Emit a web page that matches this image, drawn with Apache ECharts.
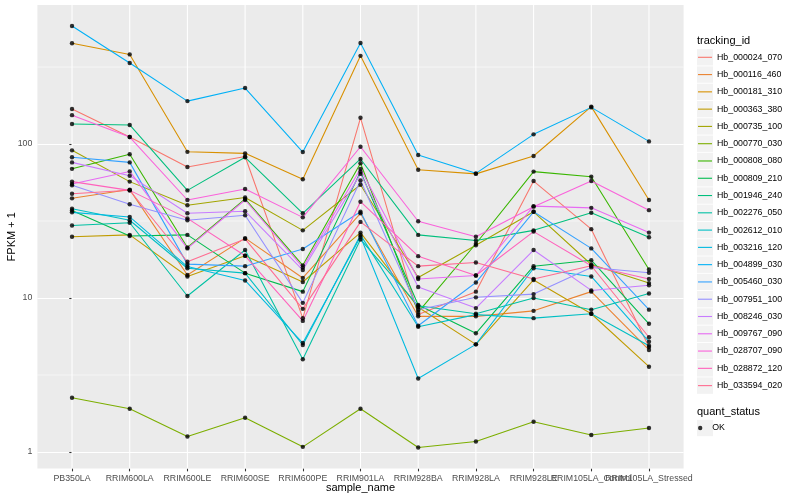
<!DOCTYPE html>
<html><head><meta charset="utf-8">
<script src="https://cdn.jsdelivr.net/npm/echarts@6/dist/echarts.min.js"></script>
<style>html,body{margin:0;padding:0;background:#fff}#c{width:800px;height:500px}</style>
</head><body><div id="c"></div>
<script>
// ---------- data ----------
const categories = ['PB350LA','RRIM600LA','RRIM600LE','RRIM600SE','RRIM600PE','RRIM901LA','RRIM928BA','RRIM928LA','RRIM928LE','RRIM105LA_Control','RRIM105LA_Stressed'];
const trackingIds = ['Hb_000024_070','Hb_000116_460','Hb_000181_310','Hb_000363_380','Hb_000735_100','Hb_000770_030','Hb_000808_080','Hb_000809_210','Hb_001946_240','Hb_002276_050','Hb_002612_010','Hb_003216_120','Hb_004899_030','Hb_005460_030','Hb_007951_100','Hb_008246_030','Hb_009767_090','Hb_028707_090','Hb_028872_120','Hb_033594_020'];
const hb_000024_070 = [169, 111, 71, 83, 7.4, 148, 7.8, 11, 57.5, 28, 4.8];
const hb_000116_460 = [44.4, 50.6, 14.1, 24.5, 13.5, 35.5, 7.6, 7.6, 8.25, 11, 4.6];
const hb_000181_310 = [451, 382, 89, 87, 59, 374, 68, 64, 83.6, 175, 43.3];
const hb_000363_380 = [25, 25.7, 13.8, 18.8, 12.7, 26.6, 8.7, 5.0, 13.1, 7.9, 3.58];
const hb_000735_100 = [91, 57, 40, 45, 27.5, 54.4, 13.6, 22, 36.3, 16.5, 12.5];
const hb_000770_030 = [2.25, 1.91, 1.26, 1.67, 1.08, 1.91, 1.07, 1.17, 1.57, 1.29, 1.43];
const hb_000808_080 = [69, 85.8, 21.3, 44, 16.3, 75, 8.1, 22.5, 66.2, 61.3, 15.3];
const hb_000809_210 = [37, 25.3, 25.7, 14.5, 11, 66, 9, 5.9, 16.1, 17.6, 6.8];
const hb_001946_240 = [135, 133, 50, 82, 35.5, 80, 25.7, 23.6, 27.5, 35.8, 24.8];
const hb_002276_050 = [29.6, 30.8, 10.3, 20.5, 4.0, 24, 8.9, 7.9, 10, 8.4, 10.7];
const hb_002612_010 = [38, 32, 15.6, 14.5, 4.95, 25.7, 6.5, 7.8, 7.4, 7.9, 4.9];
const hb_003216_120 = [36, 33.6, 16, 13, 5.1, 25, 3.0, 5.0, 15.6, 13.8, 5.2];
const hb_004899_030 = [584, 336, 190, 231, 88.7, 453, 84.9, 64.5, 115.6, 173, 104];
const hb_005460_030 = [82, 76, 16.6, 16.1, 20.8, 36.3, 6.6, 12.6, 36.3, 21, 8.4];
const hb_007951_100 = [54, 40.6, 32, 34.5, 9.3, 58, 8.4, 10.1, 10.6, 15.8, 14.6];
const hb_008246_030 = [76, 62.3, 35.5, 36.6, 15.2, 64, 11.8, 8.6, 20.5, 11.2, 12.1];
const hb_009767_090 = [55, 66.4, 21, 43.3, 15.8, 69, 13.3, 14, 39.5, 38.5, 26.6];
const hb_028707_090 = [154, 111, 43.3, 51, 33.4, 96, 31.5, 25, 39.2, 57.5, 37.2];
const hb_028872_120 = [57, 50, 32.9, 18.8, 7.1, 42.2, 18.7, 14, 27, 16.2, 13.3];
const hb_033594_020 = [47.5, 50.1, 17.2, 24.2, 8.5, 31.2, 16.1, 17, 13.3, 16.2, 5.56];
const seriesValues = [hb_000024_070, hb_000116_460, hb_000181_310, hb_000363_380, hb_000735_100, hb_000770_030, hb_000808_080, hb_000809_210, hb_001946_240, hb_002276_050, hb_002612_010, hb_003216_120, hb_004899_030, hb_005460_030, hb_007951_100, hb_008246_030, hb_009767_090, hb_028707_090, hb_028872_120, hb_033594_020];
const yTickValues = [1, 10, 100];
const yMinorGrid = [3.1623, 31.623, 316.23];
const quantStatus = ['OK'];

// ---------- style / layout ----------
const palette = ['#F8766D','#EA8331','#D89000','#C09B00','#A3A500','#7CAE00','#39B600','#00BB4E','#00BF7D','#00C1A3','#00BFC4','#00BAE0','#00B0F6','#35A2FF','#9590FF','#C77CFF','#E76BF3','#FA62DB','#FF62BC','#FF6C91'];
const FONT = '"Liberation Sans", Arial, Helvetica, sans-serif';
const xIdx = categories.map((_, i) => i);
const xMin = -0.6, xMax = categories.length - 1 + 0.6;
const yMin = Math.pow(10, -0.108), yMax = Math.pow(10, 2.903);
const evenIdx = xIdx.filter(i => i % 2 === 0);
const oddIdx = xIdx.filter(i => i % 2 === 1);

const chart = echarts.init(document.getElementById('c'), null, {renderer: 'canvas'});

const lineSeries = trackingIds.map((id, k) => ({
  name: id, type: 'line',
  data: seriesValues[k].map((v, i) => [i, v]),
  showSymbol: false, symbol: 'none',
  color: palette[k],
  lineStyle: {color: palette[k], width: 1.07},
  itemStyle: {color: palette[k]},
  z: 3, silent: true
}));
const pointSeries = {
  name: 'OK', type: 'scatter',
  data: seriesValues.flatMap(vals => vals.map((v, i) => [i, v])),
  symbol: 'circle', symbolSize: 4.4,
  itemStyle: {color: '#000'}, z: 4, silent: true
};
// white panel grid lines: major vertical at categories, minor horizontal at half decades
const vGridSeries = xIdx.map(i => ({
  type: 'line', data: [[i, yMin], [i, yMax]], symbol: 'none', silent: true, z: 1,
  lineStyle: {color: '#FFFFFF', width: 1.07}
}));
const minorGridSeries = yMinorGrid.map(v => ({
  type: 'line', data: [[xMin, v], [xMax, v]], symbol: 'none', silent: true, z: 1,
  lineStyle: {color: '#FFFFFF', width: 0.55}
}));

const keyStep = 17.28;
const key0 = 57.3;
const graphics = trackingIds.map((_, i) => ({
  type: 'rect', z: 0,
  shape: {x: 697, y: key0 + i * keyStep - 8.2, width: 16, height: 16.4},
  style: {fill: '#F2F2F2'}
}));
graphics.push({type: 'rect', z: 0, shape: {x: 697, y: 428 - 8.2, width: 16, height: 16.4}, style: {fill: '#F2F2F2'}});
graphics.push({type: 'text', x: 12, y: 236.8, rotation: Math.PI / 2, z: 5,
  style: {text: 'FPKM + 1', fill: '#000', font: '11px ' + FONT, align: 'center', verticalAlign: 'middle'}});
graphics.push({type: 'text', x: 360.5, y: 488, z: 5,
  style: {text: 'sample_name', fill: '#000', font: '11px ' + FONT, align: 'center', verticalAlign: 'middle'}});

const xAxisBase = (vals) => ({
  type: 'value', min: xMin, max: xMax, position: 'bottom', offset: 0,
  axisLine: {show: false},
  axisTick: {show: true, customValues: vals, length: 2.75, lineStyle: {color: '#333333', width: 1.07}},
  axisLabel: {customValues: vals, formatter: v => categories[Math.round(v)], color: '#4D4D4D', fontSize: 8.8, margin: 5, hideOverlap: false, showMinLabel: true, showMaxLabel: true, fontFamily: FONT},
  splitLine: {show: false}
});

chart.setOption({
  animation: false,
  backgroundColor: '#FFFFFF',
  textStyle: {fontFamily: FONT},
  title: [
    {text: 'tracking_id', left: 692, top: 30, textStyle: {fontSize: 11, fontWeight: 'normal', color: '#000', fontFamily: FONT}},
    {text: 'quant_status', left: 692, top: 401, textStyle: {fontSize: 11, fontWeight: 'normal', color: '#000', fontFamily: FONT}}
  ],
  grid: {left: 37.4, right: 116.4, top: 5, bottom: 31.4, show: true, backgroundColor: '#EBEBEB', borderWidth: 0, containLabel: false, outerBoundsMode: 'none'},
  xAxis: [xAxisBase(evenIdx), xAxisBase(oddIdx)],
  yAxis: {
    type: 'log', logBase: 10, min: yMin, max: yMax,
    axisLine: {show: false},
    axisTick: {show: true, customValues: yTickValues, length: 2.75, lineStyle: {color: '#333333', width: 1.07}},
    axisLabel: {customValues: yTickValues, formatter: v => String(Math.round(v)), color: '#4D4D4D', fontSize: 8.8, margin: 5, fontFamily: FONT},
    splitLine: {show: true, lineStyle: {color: '#FFFFFF', width: 1.07}}
  },
  legend: [
    {
      data: trackingIds, orient: 'vertical', left: 693, top: key0 - keyStep / 2 - 5,
      icon: 'rect', itemWidth: 14, itemHeight: 1.1, itemGap: 0, selectedMode: false,
      textStyle: {fontSize: 8.8, color: '#000', lineHeight: keyStep, fontFamily: FONT}
    },
    {
      data: quantStatus, orient: 'vertical', left: 693, top: 428 - keyStep / 2 - 5,
      icon: 'circle', itemWidth: 14, itemHeight: 4.4, itemGap: 0, selectedMode: false,
      textStyle: {fontSize: 8.8, color: '#000', lineHeight: keyStep, fontFamily: FONT}
    }
  ],
  graphic: graphics,
  series: [...vGridSeries, ...minorGridSeries, ...lineSeries, pointSeries]
});
</script>
</body></html>
